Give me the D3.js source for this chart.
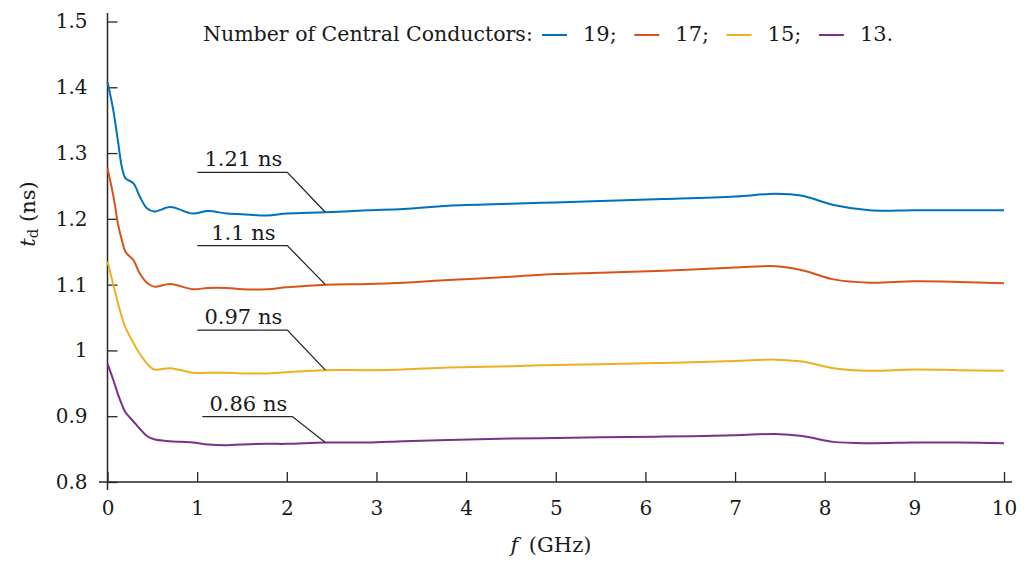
<!DOCTYPE html>
<html>
<head>
<meta charset="utf-8">
<script src="https://cdn.jsdelivr.net/npm/d3@7"></script>
<style>
  html, body { margin: 0; padding: 0; background: #fff; }
  svg { display: block; }
  text { font-family: "DejaVu Serif", serif; fill: #1a1a1a; }
</style>
</head>
<body>
<svg id="chart" width="1032" height="563"></svg>
<script>
// Frequency samples (GHz)
const freq = [0, 0.065, 0.12, 0.16, 0.2, 0.29, 0.36, 0.44, 0.52, 0.7, 0.95, 1.12, 1.33, 1.5, 1.78, 2.0,
              2.43, 2.9, 3.3, 3.8, 4.5, 5.0, 5.5, 6.2, 7.0, 7.45, 7.75, 8.1, 8.5, 9.0, 9.5, 10];

// Time delay t_d (ns) for each number of central conductors
const td19 = [1.408, 1.365, 1.315, 1.279, 1.262, 1.254, 1.234, 1.216, 1.211, 1.218, 1.208, 1.212, 1.208, 1.207, 1.205, 1.208,
              1.21, 1.213, 1.215, 1.220, 1.223, 1.225, 1.227, 1.230, 1.234, 1.238, 1.235, 1.221, 1.213, 1.213, 1.213, 1.213];
const td17 = [1.277, 1.235, 1.190, 1.168, 1.150, 1.137, 1.117, 1.103, 1.097, 1.101, 1.093, 1.095, 1.095, 1.093, 1.093, 1.096,
              1.1, 1.101, 1.103, 1.107, 1.112, 1.116, 1.118, 1.121, 1.126, 1.128, 1.122, 1.108, 1.103, 1.105, 1.104, 1.102];
const td15 = [1.135, 1.100, 1.070, 1.051, 1.035, 1.011, 0.995, 0.980, 0.971, 0.973, 0.966, 0.966, 0.966, 0.965, 0.965, 0.967,
              0.97, 0.970, 0.971, 0.974, 0.976, 0.978, 0.979, 0.981, 0.984, 0.986, 0.983, 0.973, 0.969, 0.971, 0.970, 0.969];
const td13 = [0.980, 0.955, 0.932, 0.918, 0.906, 0.892, 0.881, 0.870, 0.865, 0.862, 0.860, 0.857, 0.856, 0.857, 0.858, 0.858,
              0.86, 0.860, 0.862, 0.864, 0.866, 0.867, 0.868, 0.869, 0.871, 0.873, 0.870, 0.861, 0.859, 0.860, 0.860, 0.859];

const seriesNames = ["19;", "17;", "15;", "13."];
const seriesValues = [td19, td17, td15, td13];
const seriesColors = ["#0072BD", "#D95319", "#EDB120", "#7E2F8E"];

// Callouts: value at the marked frequency
const calloutFreq = 2.43;
const calloutValues = [1.21, 1.1, 0.97, 0.86];
const calloutLabels = ["1.21 ns", "1.1 ns", "0.97 ns", "0.86 ns"];

// Axis ticks
const xTicks = [0, 1, 2, 3, 4, 5, 6, 7, 8, 9, 10];
const yTicks = [0.8, 0.9, 1.0, 1.1, 1.2, 1.3, 1.4, 1.5];

const svg = d3.select("#chart");
const axisColor = "#262626";
const font = "DejaVu Serif";

const x = d3.scaleLinear().domain([0, 10]).range([107.5, 1004]);
const y = d3.scaleLinear().domain([0.8, 1.5]).range([482, 21.5]);

// Axes with inward ticks
const xAxis = d3.axisBottom(x).tickValues(xTicks).tickSize(-10).tickPadding(19).tickFormat(d3.format("~g"));
const yAxis = d3.axisLeft(y).tickValues(yTicks).tickSize(-10).tickPadding(20).tickFormat(d3.format("~g"));

const gx = svg.append("g").attr("transform", `translate(0,${y(0.8)})`).call(xAxis);
const gy = svg.append("g").attr("transform", `translate(${x(0)},0)`).call(yAxis);
[gx, gy].forEach(g => {
  g.select(".domain").remove();
  g.selectAll(".tick line").attr("stroke", axisColor).attr("stroke-width", 1.3);
  g.selectAll(".tick text").attr("font-size", 20).attr("font-family", font).attr("fill", "#262626");
});

// Axis lines, extended past the origin so they cross
svg.append("line").attr("x1", x(0) - 8.5).attr("x2", x(10) + 8).attr("y1", y(0.8)).attr("y2", y(0.8))
  .attr("stroke", axisColor).attr("stroke-width", 1.5);
svg.append("line").attr("x1", x(0)).attr("x2", x(0)).attr("y1", y(1.5) - 8.5).attr("y2", y(0.8) + 8)
  .attr("stroke", axisColor).attr("stroke-width", 1.5);

// Curves
const line = d3.line()
  .x((d, i) => x(freq[i]))
  .y(d => y(d))
  .curve(d3.curveCatmullRom.alpha(0.5));

svg.append("g").selectAll("path")
  .data(seriesValues)
  .join("path")
  .attr("d", d => line(d))
  .attr("fill", "none")
  .attr("stroke", (d, i) => seriesColors[i])
  .attr("stroke-width", 2);

// Callout leaders: horizontal shelf, then a diagonal down to the curve
const elbow = [[-38, -40], [-38, -39], [-38, -40], [-33, -26]];
const shelf = 90;
const cg = svg.append("g");
calloutValues.forEach((v, i) => {
  const px = x(calloutFreq), py = y(v);
  const ex = px + elbow[i][0], ey = py + elbow[i][1];
  cg.append("path")
    .attr("d", `M${px},${py}L${ex},${ey}L${ex - shelf},${ey}`)
    .attr("fill", "none").attr("stroke", "#262626").attr("stroke-width", 1.3);
  cg.append("text")
    .attr("x", ex - shelf / 2 + 1).attr("y", ey - 6)
    .attr("text-anchor", "middle").attr("font-size", 21).attr("font-family", font)
    .text(calloutLabels[i]);
});

// Legend
const lg = svg.append("g").attr("font-family", font);
lg.append("text").attr("x", 203).attr("y", 41).attr("font-size", 20.5)
  .text("Number of Central Conductors:");
seriesNames.forEach((name, i) => {
  const lx = 542 + i * 92.3;
  lg.append("line").attr("x1", lx).attr("x2", lx + 25).attr("y1", 35).attr("y2", 35)
    .attr("stroke", seriesColors[i]).attr("stroke-width", 2);
  lg.append("text").attr("x", lx + 41).attr("y", 41).attr("font-size", 21).text(name);
});

// Axis titles
const xl = svg.append("text").attr("x", 551).attr("y", 552).attr("text-anchor", "middle")
  .attr("font-size", 21).attr("font-family", font);
xl.append("tspan").attr("font-style", "italic").text("f");
xl.append("tspan").text("\u2002(GHz)");

const yl = svg.append("text").attr("transform", "translate(35,214) rotate(-90)")
  .attr("text-anchor", "middle").attr("font-size", 21).attr("font-family", font);
yl.append("tspan").attr("font-style", "italic").text("t");
yl.append("tspan").attr("font-size", 15).attr("dy", 3).text("d");
yl.append("tspan").attr("dy", -3).text(" (ns)");
</script>
</body>
</html>
